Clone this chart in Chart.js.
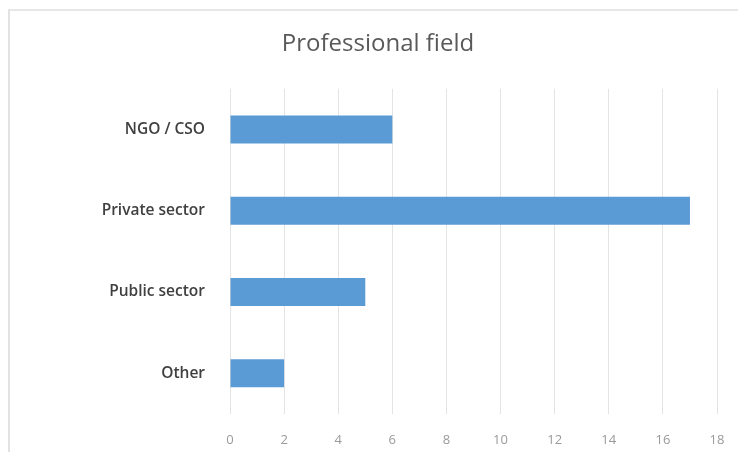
<!DOCTYPE html>
<html>
<head>
<meta charset="utf-8">
<script src="https://cdn.jsdelivr.net/npm/chart.js@4/dist/chart.umd.min.js"></script>
<style>
  html, body { margin: 0; padding: 0; background: #fff; }
  #wrap { position: relative; width: 738px; height: 452px; overflow: hidden; }
  #frame { position: absolute; left: 8px; top: 9px; width: 760px; height: 470px;
           border-left: 2px solid #e2e2e2; border-top: 2px solid #e6e6e6; }
  #chart { position: absolute; left: 0; top: 0; }
</style>
</head>
<body>
<div id="wrap">
  <div id="frame"></div>
  <canvas id="chart" width="760" height="452"></canvas>
</div>
<script>
// ── Data ──────────────────────────────────────────────────────────────────
const categories = ['NGO / CSO', 'Private sector', 'Public sector', 'Other'];
const counts     = [6, 17, 5, 2];
const xTicks     = [0, 2, 4, 6, 8, 10, 12, 14, 16, 18];

const FONT = "'Open Sans', 'Noto Sans', sans-serif";

// ── Chart ─────────────────────────────────────────────────────────────────
// canvas is a bit wider than the window so the title can sit right of centre
new Chart(document.getElementById('chart'), {
  type: 'bar',
  data: {
    labels: categories,
    datasets: [{
      data: counts,
      backgroundColor: '#5B9BD5',
      borderWidth: 0,
      categoryPercentage: 1,
      barPercentage: 0.345,
    }],
  },
  options: {
    indexAxis: 'y',
    responsive: false,
    animation: false,
    layout: { padding: { left: 39, right: 43, top: 0, bottom: 0 } },
    plugins: {
      legend: { display: false },
      tooltip: { enabled: false },
      title: {
        display: true,
        text: 'Professional field',
        color: '#595959',
        font: { family: FONT, size: 24, weight: '400' },
        padding: { top: 30, bottom: 30 },
      },
    },
    scales: {
      x: {
        min: 0,
        max: 18,
        afterBuildTicks: (s) => { s.ticks = xTicks.map(v => ({ value: v })); },
        afterFit: (s) => { s.height = 38; },
        grid: { color: '#e4e4e4', lineWidth: 1, drawTicks: false },
        border: { display: false },
        ticks: { color: '#9a9a9a', padding: 18, font: { family: FONT, size: 13 } },
      },
      y: {
        afterFit: (s) => { s.width = 191; },
        grid: { display: false, drawTicks: false },
        border: { display: false },
        ticks: { color: '#404040', padding: 25, font: { family: FONT, size: 15.5, weight: '600' } },
      },
    },
  },
});
</script>
</body>
</html>
